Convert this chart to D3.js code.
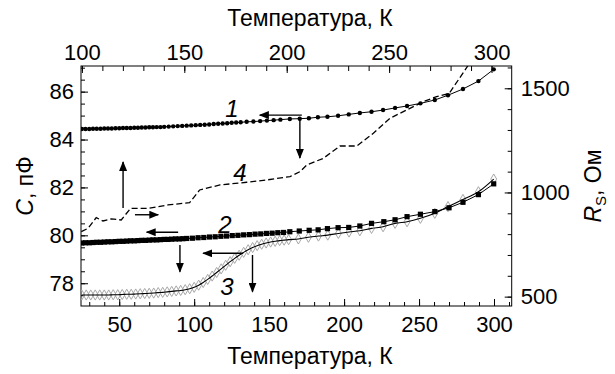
<!DOCTYPE html>
<html>
<head>
<meta charset="utf-8">
<script src="https://cdn.jsdelivr.net/npm/d3@7"></script>
<style>
  body { margin: 0; background: #fff; }
  svg text { font-family: "Liberation Sans", Arial, sans-serif; fill: #000; }
</style>
</head>
<body>
<svg id="chart" width="615" height="374"></svg>
<script>
// Curve 1: capacitance (circles), bottom temperature axis, left axis
const curve1T = [25,27.5,30,32.5,35,37.5,40,42.5,45,47.5,50,52.5,55,57.5,60,62.5,65,67.5,70,72.5,75,77.5,80,
  83,86,89,92,95,98,101,104,107,110,113,116,119,122,125,128,131,
  135,139.5,144,148.5,153,157.5,
  163.8,170.4,176.5,182.5,188.9,196,203.1,210.5,218.3,226,234,242,250.9,260.5,269.3,279.3,289.6,299.8];
const curve1C = [84.44,84.44,84.44,84.45,84.45,84.45,84.46,84.46,84.46,84.47,84.47,84.48,84.48,84.48,84.49,84.49,84.50,84.50,84.51,84.51,84.52,84.52,84.53,
  84.54,84.55,84.56,84.57,84.58,84.59,84.60,84.61,84.62,84.63,84.65,84.66,84.67,84.68,84.70,84.71,84.72,
  84.74,84.75,84.77,84.79,84.81,84.83,
  84.86,84.87,84.89,84.93,84.95,84.99,85.05,85.11,85.16,85.23,85.32,85.40,85.51,85.65,85.85,86.11,86.44,86.93];

// Curve 2: capacitance (squares)
const curve2T = [25,27.5,30,32.5,35,37.5,40,42.5,45,47.5,50,52.5,55,57.5,60,62.5,65,67.5,70,72.5,75,77.5,80,82.5,85,87.5,90,92.5,95,
  98.8,102.6,106.4,110.2,114,117.8,121.6,125.4,129.2,133,136.8,140.6,144.4,148.2,152,155.8,159.6,
  163.8,170.1,176.7,182.7,188.9,196,203.1,210.5,218.3,226.5,234,242,250.9,260.5,270,279.3,289.6,299.8];
const curve2C = [79.68,79.69,79.69,79.70,79.71,79.71,79.72,79.73,79.73,79.74,79.75,79.75,79.76,79.77,79.77,79.78,79.79,79.79,79.80,79.81,79.81,79.82,79.83,79.83,79.84,79.85,79.85,79.86,79.87,
  79.88,79.90,79.91,79.93,79.94,79.96,79.97,79.99,80.00,80.02,80.03,80.05,80.06,80.08,80.09,80.11,80.12,
  80.15,80.18,80.21,80.23,80.28,80.32,80.33,80.39,80.50,80.57,80.65,80.78,80.88,80.99,81.15,81.38,81.70,82.15];

// Curve 3: capacitance (open diamonds with solid line)
const curve3T = [25,28,31,34,37,40,43,46,49,52,55,58,61,64,67,70,73,76,79,82,85,88,91,94,97,100,103,106,109,112,115,118,121,124,127,130,133,136,139,142,145,148,151,154,157,160,163,
  169.5,176.2,182.9,189.1,196.2,203.3,210.5,218.3,226,234,242,250.9,260.5,269.3,279.3,289.6,299.8];
const curve3C = [77.51,77.51,77.51,77.51,77.51,77.51,77.51,77.52,77.52,77.53,77.54,77.54,77.55,77.56,77.57,77.58,77.59,77.61,77.62,77.64,77.66,77.68,77.70,77.73,77.77,77.83,77.92,78.03,78.16,78.30,78.45,78.60,78.75,78.90,79.04,79.17,79.29,79.40,79.49,79.57,79.63,79.68,79.72,79.75,79.78,79.80,79.82,
  79.85,79.92,79.97,80.01,80.08,80.14,80.19,80.29,80.36,80.50,80.57,80.71,80.92,81.20,81.50,81.82,82.35];

// Curve 4: series resistance (dashed), top temperature axis, right axis
const curve4T = [99.7,103.0,107.0,110.3,114.4,119.2,123.8,132.3,142.0,152.6,157.5,167.4,180.5,190.2,201.6,206.5,209.8,217.9,226.0,234.2,242.3,250.4,258.6,266.7,273.2,279.4,288.7];
const curve4R = [812,828,879,863,873,868,924,924,940,951,1012,1036,1049,1060,1076,1100,1132,1164,1223,1223,1284,1356,1396,1436,1460,1476,1612];

// Tick values
const bottomTicks = [50,100,150,200,250,300];
const topTicks = [100,150,200,250,300];
const leftTicks = [78,80,82,84,86];
const rightTicks = [500,1000,1500];

// Curve numbers: [label, T, value, axis pair]
const curveLabels = [
  ["1", 125.2, 84.92, "C"],
  ["2", 120.5, 80.08, "C"],
  ["3", 121.9, 77.49, "C"],
  ["4", 177.2, 1053, "R"]
];
// Arrows: [T1, v1, T2, v2, axis pair] (head at second point)
const arrows = [
  [171.8, 85.02, 143.8, 85.02, "C"],
  [170.5, 84.90, 170.5, 83.23, "C"],
  [89.3, 80.13, 68.3, 80.13, "C"],
  [90.5, 79.60, 90.5, 78.48, "C"],
  [132.7, 79.25, 106.0, 79.25, "C"],
  [138.9, 79.18, 138.9, 77.65, "C"],
  [120.1, 926, 120.1, 1146, "R"],
  [125.9, 893, 137.3, 893, "R"]
];

const svg = d3.select("#chart");
const L = 81, R = 511.7, T = 66, B = 306;

const xB = d3.scaleLinear().domain([24.5, 311.8]).range([L, R]);
const xT = d3.scaleLinear().domain([99.56, 309.85]).range([L, R]);
const yC = d3.scaleLinear().domain([77.05, 87.07]).range([B, T]);
const yR = d3.scaleLinear().domain([455, 1607]).range([B, T]);

const defs = svg.append("defs");
defs.append("clipPath").attr("id", "plotClip")
  .append("rect").attr("x", L).attr("y", T).attr("width", R - L).attr("height", B - T);
defs.append("marker").attr("id", "head")
  .attr("viewBox", "0 0 10 8").attr("refX", 9).attr("refY", 4)
  .attr("markerWidth", 10).attr("markerHeight", 8)
  .attr("markerUnits", "userSpaceOnUse").attr("orient", "auto")
  .append("path").attr("d", "M0,0 L10,4 L0,8 Z").attr("fill", "#000");

const fs = 22;

// Axes with inward ticks
function styleAxis(g) {
  g.select(".domain").remove();
  g.selectAll(".tick line").attr("stroke", "#000").attr("stroke-width", 1);
  g.selectAll("text").attr("font-size", fs).attr("font-family", "Liberation Sans, Arial, sans-serif").attr("fill", "#000");
}
// bottom
svg.append("g").attr("transform", `translate(0,${B})`)
  .call(d3.axisBottom(xB).tickValues(d3.range(30, 311, 10)).tickSize(-4).tickFormat(""))
  .call(styleAxis);
svg.append("g").attr("transform", `translate(0,${B})`)
  .call(d3.axisBottom(xB).tickValues(bottomTicks).tickSize(-7).tickPadding(5).tickFormat(d3.format("d")))
  .call(styleAxis)
  .call(g => g.selectAll("text").attr("dy", "0.95em").attr("y", 5));
// top
svg.append("g").attr("transform", `translate(0,${T})`)
  .call(d3.axisTop(xT).tickValues(d3.range(100, 310, 10)).tickSize(-5).tickFormat(""))
  .call(styleAxis);
svg.append("g").attr("transform", `translate(0,${T})`)
  .call(d3.axisTop(xT).tickValues(topTicks).tickSize(-7).tickPadding(6).tickFormat(d3.format("d")))
  .call(styleAxis)
  .call(g => g.selectAll("text").attr("y", -6));
// left
svg.append("g").attr("transform", `translate(${L},0)`)
  .call(d3.axisLeft(yC).tickValues(d3.range(77.5, 87.01, 0.5)).tickSize(-4).tickFormat(""))
  .call(styleAxis);
svg.append("g").attr("transform", `translate(${L},0)`)
  .call(d3.axisLeft(yC).tickValues(leftTicks).tickSize(-7).tickPadding(7).tickFormat(d3.format("d")))
  .call(styleAxis)
  .call(g => g.selectAll("text").attr("x", -7));
// right
svg.append("g").attr("transform", `translate(${R},0)`)
  .call(d3.axisRight(yR).tickValues(d3.range(500, 1601, 100)).tickSize(-4).tickFormat(""))
  .call(styleAxis);
svg.append("g").attr("transform", `translate(${R},0)`)
  .call(d3.axisRight(yR).tickValues(rightTicks).tickSize(-7).tickPadding(9).tickFormat(d3.format("d")))
  .call(styleAxis)
  .call(g => g.selectAll("text").attr("x", 9));

// Frame
svg.append("rect").attr("x", L).attr("y", T).attr("width", R - L).attr("height", B - T)
  .attr("fill", "none").attr("stroke", "#000").attr("stroke-width", 1);

const plot = svg.append("g").attr("clip-path", "url(#plotClip)");

// Curve 3: diamonds and fitted line
const d3pts = curve3T.map((t, i) => [t, curve3C[i]]);
plot.append("g").selectAll("path").data(d3pts).join("path")
  .attr("d", d3.symbol(d3.symbolDiamond, 30))
  .attr("transform", d => `translate(${xB(d[0])},${yC(d[1])})`)
  .attr("fill", "none").attr("stroke", "#a8a8a8").attr("stroke-width", 1);
plot.append("path").datum(d3pts)
  .attr("d", d3.line().x(d => xB(d[0])).y(d => yC(d[1])).curve(d3.curveMonotoneX))
  .attr("fill", "none").attr("stroke", "#000").attr("stroke-width", 1.1);

// Curve 2: squares
const d2pts = curve2T.map((t, i) => [t, curve2C[i]]);
plot.append("path").datum(d2pts)
  .attr("d", d3.line().x(d => xB(d[0])).y(d => yC(d[1])))
  .attr("fill", "none").attr("stroke", "#000").attr("stroke-width", 1);
plot.append("g").selectAll("rect").data(d2pts).join("rect")
  .attr("x", d => xB(d[0]) - 2.6).attr("y", d => yC(d[1]) - 2.6)
  .attr("width", 5.2).attr("height", 5.2).attr("fill", "#000");

// Curve 1: circles
const d1pts = curve1T.map((t, i) => [t, curve1C[i]]);
plot.append("path").datum(d1pts)
  .attr("d", d3.line().x(d => xB(d[0])).y(d => yC(d[1])))
  .attr("fill", "none").attr("stroke", "#000").attr("stroke-width", 1);
plot.append("g").selectAll("circle").data(d1pts).join("circle")
  .attr("cx", d => xB(d[0])).attr("cy", d => yC(d[1])).attr("r", 2.2).attr("fill", "#000");

// Curve 4: dashed resistance
const d4pts = curve4T.map((t, i) => [t, curve4R[i]]);
plot.append("path").datum(d4pts)
  .attr("d", d3.line().x(d => xT(d[0])).y(d => yR(d[1])))
  .attr("fill", "none").attr("stroke", "#000").attr("stroke-width", 1.3)
  .attr("stroke-dasharray", "6,3");

// Arrows
const px = (t, k) => k === "C" ? xB(t) : xT(t);
const py = (v, k) => k === "C" ? yC(v) : yR(v);
svg.append("g").selectAll("line").data(arrows).join("line")
  .attr("x1", d => px(d[0], d[4])).attr("y1", d => py(d[1], d[4]))
  .attr("x2", d => px(d[2], d[4])).attr("y2", d => py(d[3], d[4]))
  .attr("stroke", "#000").attr("stroke-width", 1.4)
  .attr("marker-end", "url(#head)");

// Curve numbers
svg.append("g").selectAll("text").data(curveLabels).join("text")
  .attr("x", d => px(d[1], d[3])).attr("y", d => py(d[2], d[3]))
  .attr("text-anchor", "middle").attr("font-size", 24).attr("font-style", "italic")
  .text(d => d[0]);

// Axis titles
const tfs = 23;
svg.append("text").attr("x", 310).attr("y", 26).attr("text-anchor", "middle")
  .attr("font-size", tfs).text("Температура, К");
svg.append("text").attr("x", 310).attr("y", 364).attr("text-anchor", "middle")
  .attr("font-size", tfs).text("Температура, К");
svg.append("text").attr("transform", "translate(33,186) rotate(-90)").attr("text-anchor", "middle")
  .attr("font-size", tfs)
  .call(t => {
    t.append("tspan").attr("font-style", "italic").text("C");
    t.append("tspan").text(", пФ");
  });
svg.append("text").attr("transform", "translate(601,186) rotate(-90)").attr("text-anchor", "middle")
  .attr("font-size", tfs)
  .call(t => {
    t.append("tspan").attr("font-style", "italic").text("R");
    t.append("tspan").attr("font-size", 15).attr("dy", 5).text("S");
    t.append("tspan").attr("dy", -5).text(", Ом");
  });
</script>
</body>
</html>
